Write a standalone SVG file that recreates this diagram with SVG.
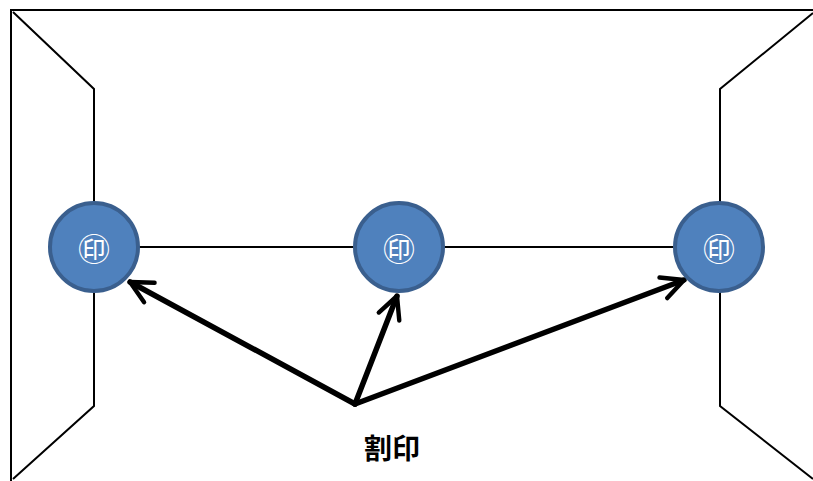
<svg xmlns="http://www.w3.org/2000/svg" width="813" height="481" viewBox="0 0 813 481">
<defs>
<style>
.frame{fill:none;stroke:#000;stroke-width:2}
.node circle{fill:#4f81bd;stroke:#3a5f8e;stroke-width:4}
.node text{fill:#fff;font-family:"Noto Sans CJK JP","DejaVu Sans",sans-serif;font-size:32px;text-anchor:middle;dominant-baseline:central}
.arrow{fill:none;stroke:#000;stroke-width:5.5;stroke-linecap:round;stroke-linejoin:round}
</style>
<marker id="ah" viewBox="0 0 10 10" refX="9" refY="5" markerWidth="5" markerHeight="5" orient="auto" markerUnits="strokeWidth">
<path d="M1,1 L9,5 L1,9" fill="none" stroke="#000" stroke-width="1.6" stroke-linecap="round" stroke-linejoin="round"/>
</marker>
</defs>
<rect width="813" height="481" fill="#fff"/>
<g id="frame" class="frame">
<polyline points="11,481 11,10 813,10"/>
<polyline points="13,12 94,89 94,406 13,479"/>
<polyline points="813,13 720,89 720,406 813,479"/>
<line x1="94" y1="247" x2="720" y2="247"/>
</g>
<g id="connectors">
<line class="arrow" x1="355" y1="404" x2="130" y2="282" marker-end="url(#ah)"/>
<line class="arrow" x1="355" y1="404" x2="397" y2="296" marker-end="url(#ah)"/>
<line class="arrow" x1="355" y1="404" x2="684" y2="280" marker-end="url(#ah)"/>
</g>
<g id="node-left" class="node"><circle cx="94" cy="247" r="44"/><text x="94" y="247">㊞</text></g>
<g id="node-center" class="node"><circle cx="399" cy="247" r="44"/><text x="399" y="247">㊞</text></g>
<g id="node-right" class="node"><circle cx="719" cy="247" r="44"/><text x="719" y="247">㊞</text></g>
<text id="label" x="392" y="447" font-family="Noto Sans CJK JP, sans-serif" font-weight="bold" font-size="28" text-anchor="middle" dominant-baseline="central">割印</text>
</svg>
